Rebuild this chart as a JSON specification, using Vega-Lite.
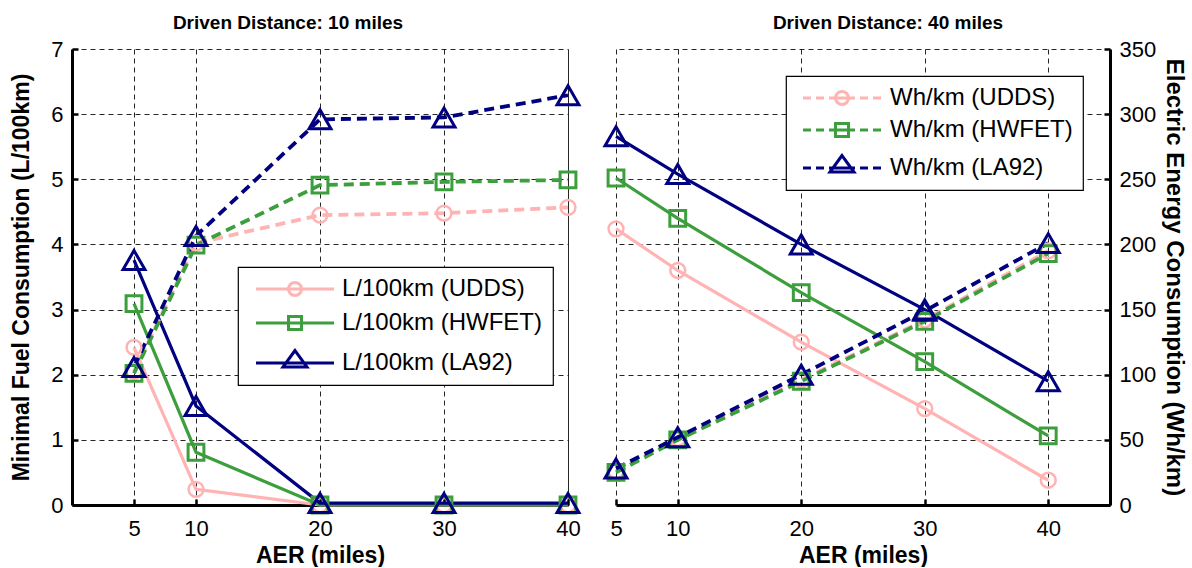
{
  "$schema": "https://vega.github.io/schema/vega-lite/v6.json",
  "background": "white",
  "padding": {"left": 10, "top": 14, "right": 0, "bottom": 0},
  "spacing": 48,
  "bounds": "flush",
  "config": {
    "font": "Liberation Sans",
    "view": {"stroke": null},
    "axis": {
      "labelFont": "Liberation Sans", "labelFontSize": 22, "labelColor": "black", "labelFlush": false, "labelOverlap": false,
      "titleFont": "Liberation Sans", "titleFontSize": 23, "titleFontWeight": "bold", "titleColor": "black",
      "domainColor": "black", "domainWidth": 3, "tickColor": "black", "tickWidth": 2.5, "tickSize": -6,
      "grid": true, "gridColor": "black", "gridWidth": 1, "gridDash": [5, 4], "gridOpacity": 0.85
    },
    "axisX": {"labelPadding": 19, "titlePadding": 5},
    "axisY": {"labelPadding": 15},
    "title": {"font": "Liberation Sans", "fontSize": 19, "fontWeight": "bold", "color": "black", "offset": 5, "frame": "group"},
    "legend": {
      "labelFont": "Liberation Sans", "labelFontSize": 24, "labelColor": "black", "labelLimit": 400,
      "symbolSize": 400, "symbolStrokeWidth": 3, "symbolOpacity": 1, "symbolFillColor": "transparent",
      "padding": 10, "fillColor": "white", "strokeColor": "black", "strokeWidth": 1.2
    }
  },
  "datasets": {
    "left": [
      {"aer": 5, "value": 2.42, "cycle": "UDDS", "kind": "L"},
      {"aer": 10, "value": 0.24, "cycle": "UDDS", "kind": "L"},
      {"aer": 20, "value": 0, "cycle": "UDDS", "kind": "L"},
      {"aer": 30, "value": 0, "cycle": "UDDS", "kind": "L"},
      {"aer": 40, "value": 0, "cycle": "UDDS", "kind": "L"},
      {"aer": 5, "value": 3.09, "cycle": "HWFET", "kind": "L"},
      {"aer": 10, "value": 0.81, "cycle": "HWFET", "kind": "L"},
      {"aer": 20, "value": 0, "cycle": "HWFET", "kind": "L"},
      {"aer": 30, "value": 0, "cycle": "HWFET", "kind": "L"},
      {"aer": 40, "value": 0, "cycle": "HWFET", "kind": "L"},
      {"aer": 5, "value": 3.76, "cycle": "LA92", "kind": "L"},
      {"aer": 10, "value": 1.52, "cycle": "LA92", "kind": "L"},
      {"aer": 20, "value": 0.03, "cycle": "LA92", "kind": "L"},
      {"aer": 30, "value": 0.03, "cycle": "LA92", "kind": "L"},
      {"aer": 40, "value": 0.03, "cycle": "LA92", "kind": "L"},
      {"aer": 5, "value": 2.05, "cycle": "UDDS", "kind": "W"},
      {"aer": 10, "value": 4.02, "cycle": "UDDS", "kind": "W"},
      {"aer": 20, "value": 4.45, "cycle": "UDDS", "kind": "W"},
      {"aer": 30, "value": 4.48, "cycle": "UDDS", "kind": "W"},
      {"aer": 40, "value": 4.57, "cycle": "UDDS", "kind": "W"},
      {"aer": 5, "value": 2.02, "cycle": "HWFET", "kind": "W"},
      {"aer": 10, "value": 3.99, "cycle": "HWFET", "kind": "W"},
      {"aer": 20, "value": 4.91, "cycle": "HWFET", "kind": "W"},
      {"aer": 30, "value": 4.96, "cycle": "HWFET", "kind": "W"},
      {"aer": 40, "value": 4.99, "cycle": "HWFET", "kind": "W"},
      {"aer": 5, "value": 2.12, "cycle": "LA92", "kind": "W"},
      {"aer": 10, "value": 4.13, "cycle": "LA92", "kind": "W"},
      {"aer": 20, "value": 5.92, "cycle": "LA92", "kind": "W"},
      {"aer": 30, "value": 5.95, "cycle": "LA92", "kind": "W"},
      {"aer": 40, "value": 6.29, "cycle": "LA92", "kind": "W"}
    ],
    "right": [
      {"aer": 5, "value": 212, "cycle": "UDDS", "kind": "L"},
      {"aer": 10, "value": 180, "cycle": "UDDS", "kind": "L"},
      {"aer": 20, "value": 125, "cycle": "UDDS", "kind": "L"},
      {"aer": 30, "value": 74, "cycle": "UDDS", "kind": "L"},
      {"aer": 40, "value": 19, "cycle": "UDDS", "kind": "L"},
      {"aer": 5, "value": 251, "cycle": "HWFET", "kind": "L"},
      {"aer": 10, "value": 220, "cycle": "HWFET", "kind": "L"},
      {"aer": 20, "value": 163, "cycle": "HWFET", "kind": "L"},
      {"aer": 30, "value": 110, "cycle": "HWFET", "kind": "L"},
      {"aer": 40, "value": 53, "cycle": "HWFET", "kind": "L"},
      {"aer": 5, "value": 283, "cycle": "LA92", "kind": "L"},
      {"aer": 10, "value": 254, "cycle": "LA92", "kind": "L"},
      {"aer": 20, "value": 200, "cycle": "LA92", "kind": "L"},
      {"aer": 30, "value": 150, "cycle": "LA92", "kind": "L"},
      {"aer": 40, "value": 95, "cycle": "LA92", "kind": "L"},
      {"aer": 5, "value": 26, "cycle": "UDDS", "kind": "W"},
      {"aer": 10, "value": 51, "cycle": "UDDS", "kind": "W"},
      {"aer": 20, "value": 96, "cycle": "UDDS", "kind": "W"},
      {"aer": 30, "value": 142, "cycle": "UDDS", "kind": "W"},
      {"aer": 40, "value": 195, "cycle": "UDDS", "kind": "W"},
      {"aer": 5, "value": 25, "cycle": "HWFET", "kind": "W"},
      {"aer": 10, "value": 50, "cycle": "HWFET", "kind": "W"},
      {"aer": 20, "value": 95, "cycle": "HWFET", "kind": "W"},
      {"aer": 30, "value": 141, "cycle": "HWFET", "kind": "W"},
      {"aer": 40, "value": 193, "cycle": "HWFET", "kind": "W"},
      {"aer": 5, "value": 28, "cycle": "LA92", "kind": "W"},
      {"aer": 10, "value": 52, "cycle": "LA92", "kind": "W"},
      {"aer": 20, "value": 100, "cycle": "LA92", "kind": "W"},
      {"aer": 30, "value": 149, "cycle": "LA92", "kind": "W"},
      {"aer": 40, "value": 201, "cycle": "LA92", "kind": "W"}
    ]
  },
  "hconcat": [
    {
      "width": 496,
      "height": 456,
      "title": {"text": "Driven Distance: 10 miles", "dx": -32},
      "data": {"name": "left"},
      "encoding": {
        "x": {"field": "aer", "type": "quantitative", "scale": {"domain": [0, 40], "nice": false, "zero": false},
          "axis": {"values": [5, 10, 20, 30, 40], "title": "AER (miles)",
            "gridDash": {"condition": {"test": "datum.value === 40", "value": []}, "value": [5, 4]}}},
        "y": {"field": "value", "type": "quantitative", "scale": {"domain": [0, 7], "nice": false},
          "axis": {"values": [0, 1, 2, 3, 4, 5, 6, 7], "title": "Minimal Fuel Consumption (L/100km)", "orient": "left", "titlePadding": 17}}
      },
      "layer": [
        {
          "transform": [{"filter": "datum.kind === 'L'"}],
          "mark": {"type": "line", "strokeWidth": 3.2},
          "encoding": {"color": {"field": "cycle", "type": "nominal", "scale": {"domain": ["UDDS", "HWFET", "LA92"], "range": ["#FFB3B3", "#3C9E3C", "#000080"]}}}
        },
        {
          "transform": [{"filter": "datum.kind === 'W'"}],
          "mark": {"type": "line", "strokeWidth": 3.8, "strokeDash": [10, 6]},
          "encoding": {"color": {"field": "cycle", "type": "nominal"}}
        },
        {
          "transform": [{"filter": "datum.cycle === 'UDDS'"}],
          "mark": {"type": "point", "shape": "circle", "size": 220, "strokeWidth": 2.5, "filled": false, "opacity": 1},
          "encoding": {"color": {"field": "cycle", "type": "nominal"}}
        },
        {
          "transform": [{"filter": "datum.cycle === 'HWFET'"}],
          "mark": {"type": "point", "shape": "square", "size": 250, "strokeWidth": 3, "filled": false, "opacity": 1},
          "encoding": {"color": {"field": "cycle", "type": "nominal"}}
        },
        {
          "transform": [{"filter": "datum.cycle === 'LA92'"}],
          "mark": {"type": "point", "shape": "triangle-up", "size": 480, "strokeWidth": 3, "filled": false, "opacity": 1},
          "encoding": {"color": {"field": "cycle", "type": "nominal"}}
        },
        {
          "transform": [{"filter": "datum.kind === 'L'"}],
          "mark": {"type": "point", "filled": false, "opacity": 0, "strokeWidth": 3},
          "encoding": {
            "color": {"field": "cycle", "type": "nominal",
              "legend": {"title": null, "orient": "none", "legendX": 166, "legendY": 218, "direction": "vertical",
                "labelExpr": "'L/100km (' + datum.label + ')'", "symbolOffset": 35, "labelOffset": 35, "rowPadding": 8}},
            "shape": {"field": "cycle", "type": "nominal",
              "scale": {"domain": ["UDDS", "HWFET", "LA92"], "range": [
                "M-3.9,0H3.9M0.65,0A0.65,0.65,0,1,1,-0.65,0A0.65,0.65,0,1,1,0.65,0Z",
                "M-3.9,0H3.9M-0.65,-0.65H0.65V0.65H-0.65Z",
                "M-3.9,0H3.9M0,-1.25L-1.2,0.4H1.2Z"]},
              "legend": {"title": null, "orient": "none", "legendX": 166, "legendY": 218, "direction": "vertical",
                "labelExpr": "'L/100km (' + datum.label + ')'", "symbolOffset": 35, "labelOffset": 35, "rowPadding": 8}}
          }
        }
      ]
    },
    {
      "width": 494,
      "height": 456,
      "title": {"text": "Driven Distance: 40 miles", "dx": 25},
      "data": {"name": "right"},
      "encoding": {
        "x": {"field": "aer", "type": "quantitative", "scale": {"domain": [5, 45], "nice": false, "zero": false},
          "axis": {"values": [5, 10, 20, 30, 40], "title": "AER (miles)"}},
        "y": {"field": "value", "type": "quantitative", "scale": {"domain": [0, 350], "nice": false},
          "axis": {"values": [0, 50, 100, 150, 200, 250, 300, 350], "title": "Electric Energy Consumption  (Wh/km)", "orient": "right", "titlePadding": 6, "titleFontSize": 24}}
      },
      "layer": [
        {
          "transform": [{"filter": "datum.kind === 'L'"}],
          "mark": {"type": "line", "strokeWidth": 3.2},
          "encoding": {"color": {"field": "cycle", "type": "nominal", "scale": {"domain": ["UDDS", "HWFET", "LA92"], "range": ["#FFB3B3", "#3C9E3C", "#000080"]}}}
        },
        {
          "transform": [{"filter": "datum.kind === 'W'"}],
          "mark": {"type": "line", "strokeWidth": 3.8, "strokeDash": [10, 6]},
          "encoding": {"color": {"field": "cycle", "type": "nominal"}}
        },
        {
          "transform": [{"filter": "datum.cycle === 'UDDS'"}],
          "mark": {"type": "point", "shape": "circle", "size": 220, "strokeWidth": 2.5, "filled": false, "opacity": 1},
          "encoding": {"color": {"field": "cycle", "type": "nominal"}}
        },
        {
          "transform": [{"filter": "datum.cycle === 'HWFET'"}],
          "mark": {"type": "point", "shape": "square", "size": 250, "strokeWidth": 3, "filled": false, "opacity": 1},
          "encoding": {"color": {"field": "cycle", "type": "nominal"}}
        },
        {
          "transform": [{"filter": "datum.cycle === 'LA92'"}],
          "mark": {"type": "point", "shape": "triangle-up", "size": 480, "strokeWidth": 3, "filled": false, "opacity": 1},
          "encoding": {"color": {"field": "cycle", "type": "nominal"}}
        },
        {
          "transform": [{"filter": "datum.kind === 'W'"}],
          "mark": {"type": "point", "filled": false, "opacity": 0, "strokeWidth": 3},
          "encoding": {
            "color": {"field": "cycle", "type": "nominal",
              "legend": {"title": null, "orient": "none", "legendX": 170, "legendY": 27, "direction": "vertical",
                "labelExpr": "'Wh/km (' + datum.label + ')'", "symbolOffset": 34, "labelOffset": 36, "rowPadding": 6}},
            "shape": {"field": "cycle", "type": "nominal",
              "scale": {"domain": ["UDDS", "HWFET", "LA92"], "range": [
                "M-3.9,0H-3.1M-2.6,0H-1.8M-1.3,0H1.3M1.8,0H2.6M3.1,0H3.9M0.65,0A0.65,0.65,0,1,1,-0.65,0A0.65,0.65,0,1,1,0.65,0Z",
                "M-3.9,0H-3.1M-2.6,0H-1.8M-1.3,0H1.3M1.8,0H2.6M3.1,0H3.9M-0.65,-0.65H0.65V0.65H-0.65Z",
                "M-3.9,0H-3.1M-2.6,0H-1.8M-1.3,0H1.3M1.8,0H2.6M3.1,0H3.9M0,-1.25L-1.2,0.4H1.2Z"]},
              "legend": {"title": null, "orient": "none", "legendX": 170, "legendY": 27, "direction": "vertical",
                "labelExpr": "'Wh/km (' + datum.label + ')'", "symbolOffset": 34, "labelOffset": 36, "rowPadding": 6}}
          }
        }
      ]
    }
  ],
  "resolve": {"scale": {"color": "independent", "shape": "independent"}, "legend": {"color": "independent", "shape": "independent"}}
}
